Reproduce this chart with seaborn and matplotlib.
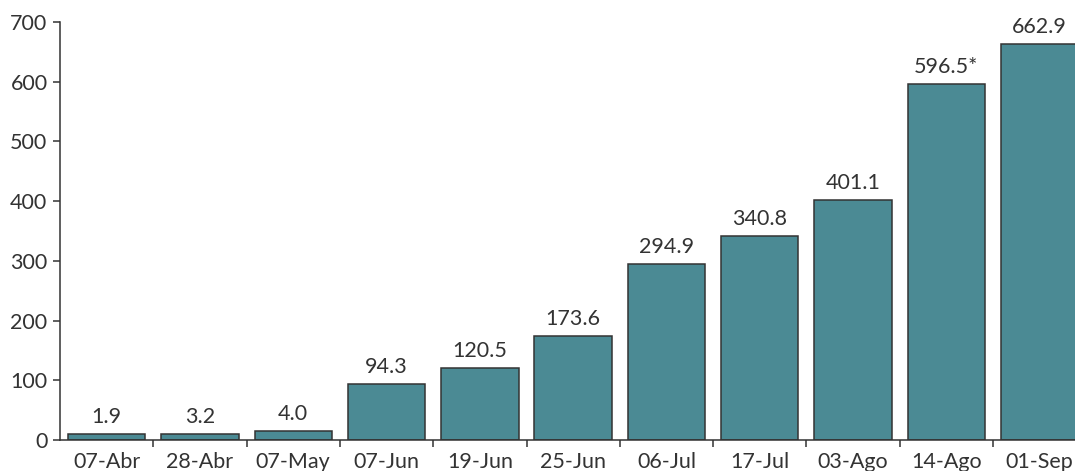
import numpy as np
import pandas as pd
import seaborn as sns
import matplotlib.pyplot as plt
from matplotlib.ticker import FixedLocator

fechas = ['07-Abr', '28-Abr', '07-May', '07-Jun', '19-Jun', '25-Jun',
          '06-Jul', '17-Jul', '03-Ago', '14-Ago', '01-Sep']
# labels printed over the bars
etiquetas = ['1.9', '3.2', '4.0', '94.3', '120.5', '173.6',
             '294.9', '340.8', '401.1', '596.5*', '662.9']
# bar heights as drawn in the picture (the tiny ones are drawn taller than their value)
alturas = [9.5, 10.5, 15.0, 94.3, 120.5, 173.6, 294.9, 340.8, 401.1, 596.5, 662.9]

df = pd.DataFrame({'fecha': fechas, 'valor': alturas})

sns.set_style('ticks')
plt.rcParams['font.family'] = ['Lato', 'DejaVu Sans']
gris = '#333333'
fs = 15.5

fig = plt.figure(figsize=(10.75, 4.71), dpi=100)
ax = fig.add_axes([60 / 1075, 31 / 471, 1 - 60 / 1075, (440 - 22) / 471])

sns.barplot(data=df, x='fecha', y='valor', color='#4b8a94', saturation=1,
            width=0.83, edgecolor=gris, linewidth=1.1, ax=ax)

for i, (h, t) in enumerate(zip(alturas, etiquetas)):
    ax.text(i, h + 12, t, ha='center', va='bottom', fontsize=fs,
            color=gris, clip_on=False)

ax.set_ylim(0, 700)
ax.set_xlim(-0.5, -0.5 + (1075 - 60) / 93.3)
ax.set_yticks(range(0, 701, 100))
ax.set_xlabel('')
ax.set_ylabel('')

ax.xaxis.set_minor_locator(FixedLocator(np.arange(0.5, len(fechas), 1)))
ax.tick_params(axis='x', which='major', length=0, pad=9, labelsize=fs, colors=gris)
ax.tick_params(axis='x', which='minor', length=5, width=1.1, color=gris, direction='out')
ax.tick_params(axis='y', length=5, width=1.1, pad=4, labelsize=fs, colors=gris)

sns.despine(ax=ax, right=True, top=True)
for s in ['left', 'bottom']:
    ax.spines[s].set_color(gris)
    ax.spines[s].set_linewidth(1.1)

fig.savefig('out.png', dpi=100)
